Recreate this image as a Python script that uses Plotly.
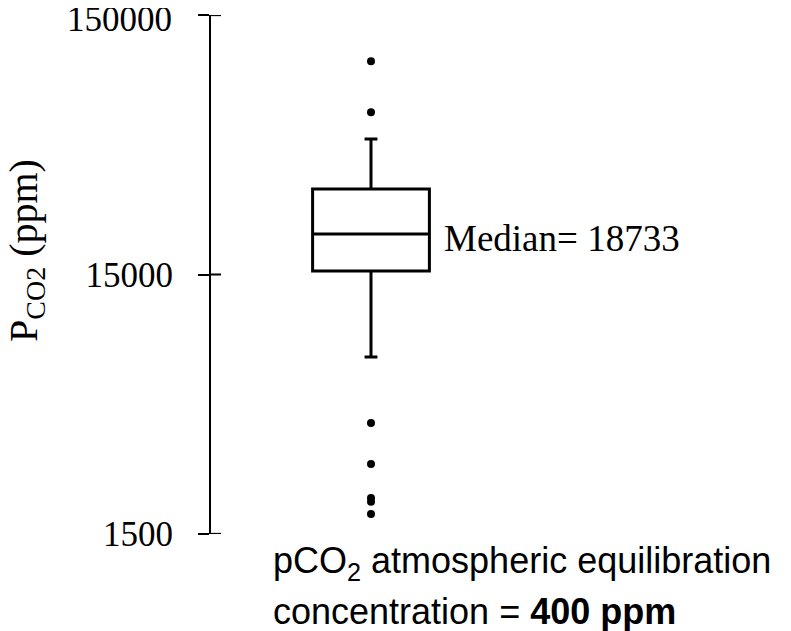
import math
import plotly.graph_objects as go

# Box statistics (ppm)
q1 = [15470]
median = [21500]
q3 = [32040]
lower_fence = [7210]
upper_fence = [49900]
outliers = [99700, 63400, 4015, 2791, 2064, 1993, 1790]
median_label = "Median= 18733"
tick_vals = [1500, 15000, 150000]
tick_text = ["1500", "15000", "150000"]

serif = "Times New Roman, Liberation Serif, serif"
sans = "Arial, Liberation Sans, sans-serif"

BODY = 8  # default page body margin
PW, PH = 320, 519  # plot area size

fig = go.Figure()
fig.add_trace(go.Box(
    x=[0], q1=q1, median=median, q3=q3,
    lowerfence=lower_fence, upperfence=upper_fence,
    width=0.73, whiskerwidth=0.11,
    line=dict(color="black", width=3), fillcolor="white",
    boxpoints=False, showlegend=False, hoverinfo="skip",
))
fig.add_trace(go.Scatter(
    x=[0] * len(outliers), y=outliers, mode="markers",
    marker=dict(color="black", size=8), showlegend=False,
))
# inner halves of the y-axis ticks (ticks cross the axis line)
tx, ty = [], []
for v in tick_vals:
    tx += [-1, -1 + 2 * 10 / PW, None]
    ty += [v, v, None]
fig.add_trace(go.Scatter(
    x=tx, y=ty, mode="lines", line=dict(color="black", width=2),
    showlegend=False, hoverinfo="skip", cliponaxis=False,
))

# the topmost label would be clipped at the page edge; draw it as an annotation nudged down
axis_text = tick_text[:-1] + [""]
top_label = dict(text=tick_text[-1], xref="paper", yref="y", x=0,
                 y=math.log10(tick_vals[-1]), xanchor="right", yanchor="middle",
                 xshift=-37, yshift=-4, showarrow=False,
                 font=dict(family=serif, size=35, color="black"))

eps = 0.0005
yrange = [math.log10(tick_vals[0]) - eps, math.log10(tick_vals[-1]) + eps]
fig.update_layout(
    width=791 - BODY, height=631 - BODY,
    margin=dict(l=211 - BODY, r=791 - 211 - PW, t=15 - BODY, b=631 - 15 - PH),
    paper_bgcolor="white", plot_bgcolor="white",
    xaxis=dict(range=[-1, 1], visible=False, automargin=False),
    yaxis=dict(
        type="log", range=yrange, tickvals=tick_vals, ticktext=axis_text,
        showline=True, linecolor="black", linewidth=2, automargin=False,
        ticks="outside", ticklen=11, tickwidth=2, tickcolor="black",
        showgrid=False, zeroline=False, ticklabelstandoff=18,
        ticklabeloverflow="allow",
        tickfont=dict(family=serif, size=35, color="black"),
    ),
    annotations=[
        top_label,
        dict(text="P<sub>CO2</sub> (ppm)", textangle=-90, xref="paper", yref="paper",
             x=(26 - 211) / PW, y=(534 - 251) / PH, xanchor="center", yanchor="middle",
             showarrow=False, font=dict(family=serif, size=40, color="black")),
        dict(text=median_label, xref="x", yref="y", x=0.365, y=math.log10(median[0]),
             xanchor="left", yanchor="middle", xshift=13, yshift=-5, showarrow=False,
             font=dict(family=serif, size=37, color="black")),
        dict(text="pCO<sub>2</sub> atmospheric equilibration", xref="paper", yref="paper",
             x=(271 - 211) / PW, y=(534 - 563) / PH, xanchor="left", yanchor="middle",
             showarrow=False, font=dict(family=sans, size=36, color="black")),
        dict(text="concentration = <b>400 ppm</b>", xref="paper", yref="paper",
             x=(271 - 211) / PW, y=(534 - 611) / PH, xanchor="left", yanchor="middle",
             showarrow=False, font=dict(family=sans, size=36, color="black")),
    ],
)
fig.write_html("out.html")
